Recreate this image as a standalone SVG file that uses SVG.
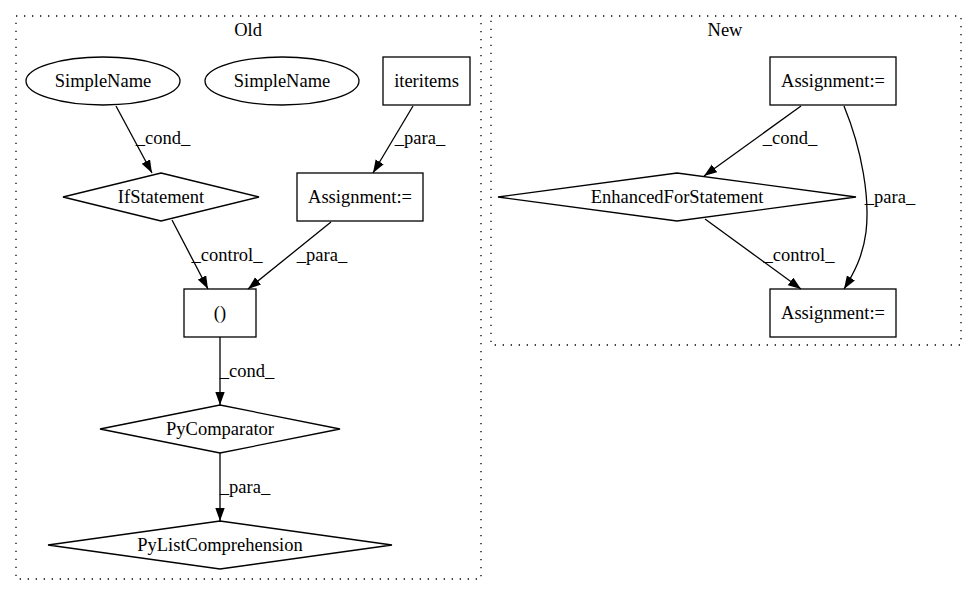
<svg xmlns="http://www.w3.org/2000/svg" width="976" height="596" viewBox="0 0 976 596">
<defs>
<style>
text{font-family:"Liberation Serif","Times New Roman",serif;font-size:18.5px;fill:#000;text-anchor:middle}
.n{fill:none;stroke:#000;stroke-width:1.3}
.c{fill:none;stroke:#000;stroke-width:1.3;stroke-dasharray:1.3,6.7}
.e{fill:none;stroke:#000;stroke-width:1.3;marker-end:url(#a)}
</style>
<marker id="a" markerUnits="userSpaceOnUse" markerWidth="14" markerHeight="10" refX="13" refY="4.7" orient="auto">
<path d="M0,0 L13,4.7 L0,9.4 z" fill="#000"/>
</marker>
</defs>
<rect width="976" height="596" fill="#fff"/>
<g id="cluster_old">
<rect class="c" x="16" y="16" width="465" height="563"/>
<text x="248" y="36">Old</text>
</g>
<g id="cluster_new">
<rect class="c" x="491" y="16" width="470" height="329"/>
<text x="725" y="36">New</text>
</g>
<g id="edges">
<path class="e" d="M116,106 L152,173"/>
<text x="163" y="144">_cond_</text>
<path class="e" d="M413,106 L373,173"/>
<text x="420" y="144">_para_</text>
<path class="e" d="M172,220 L208,289"/>
<text x="227" y="261">_control_</text>
<path class="e" d="M331,222 L248,289"/>
<text x="322" y="261">_para_</text>
<path class="e" d="M220,337 L220,405"/>
<text x="247" y="377">_cond_</text>
<path class="e" d="M220,453 L220,521"/>
<text x="245" y="493">_para_</text>
<path class="e" d="M801,106 L704,176"/>
<text x="790" y="144">_cond_</text>
<path class="e" d="M844,106 C862,150 870,198 866,232 C863,256 854,273 844,289"/>
<text x="890" y="203">_para_</text>
<path class="e" d="M705,219 L801,289"/>
<text x="799" y="261">_control_</text>
</g>
<g id="simplename1">
<ellipse class="n" cx="103" cy="81" rx="77" ry="24"/>
<text x="103" y="87">SimpleName</text>
</g>
<g id="simplename2">
<ellipse class="n" cx="282" cy="81" rx="77" ry="24"/>
<text x="282" y="87">SimpleName</text>
</g>
<g id="iteritems">
<rect class="n" x="383" y="57" width="87" height="48"/>
<text x="426.5" y="87">iteritems</text>
</g>
<g id="ifstatement">
<polygon class="n" points="161,173 259,197 161,221 63,197"/>
<text x="161" y="203">IfStatement</text>
</g>
<g id="assignment_old">
<rect class="n" x="297" y="173" width="126" height="48"/>
<text x="360" y="203">Assignment:=</text>
</g>
<g id="paren">
<rect class="n" x="184" y="289" width="72" height="48"/>
<text x="220" y="319">()</text>
</g>
<g id="pycomparator">
<polygon class="n" points="220,405 340,429 220,453 100,429"/>
<text x="220" y="435">PyComparator</text>
</g>
<g id="pylistcomprehension">
<polygon class="n" points="220,521 392,545 220,569 48,545"/>
<text x="220" y="551">PyListComprehension</text>
</g>
<g id="assignment_new_top">
<rect class="n" x="770" y="57" width="126" height="48"/>
<text x="833" y="87">Assignment:=</text>
</g>
<g id="enhancedfor">
<polygon class="n" points="677,173 856,197 677,221 498,197"/>
<text x="677" y="203">EnhancedForStatement</text>
</g>
<g id="assignment_new_bottom">
<rect class="n" x="770" y="289" width="126" height="48"/>
<text x="833" y="319">Assignment:=</text>
</g>
</svg>
